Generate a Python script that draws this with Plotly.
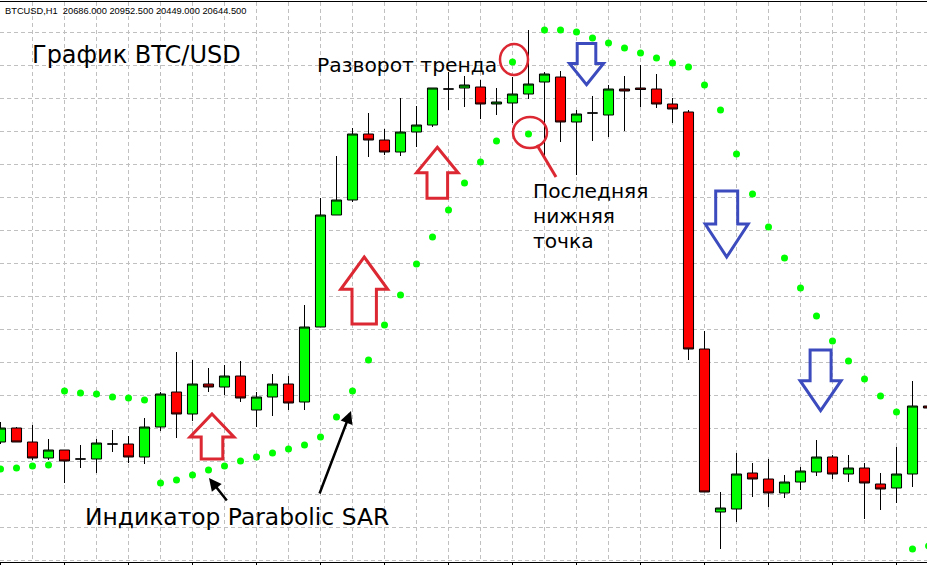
import plotly.graph_objects as go

# ---------------- data (BTC/USD, H1) ----------------
bar_index = list(range(59))
open_ = [20316, 20344, 20316, 20284, 20300, 20282, 20282, 20312, 20312, 20286,
         20346, 20416, 20372, 20432, 20426, 20448, 20380, 20406, 20432, 20396,
         20546, 20770, 20800, 20932, 20920, 20896, 20936, 20950, 21022, 21024,
         21026, 20992, 20994, 21012, 21036, 21046, 20956, 20974, 20970, 21022,
         21024, 21022, 20992, 20976, 20502, 20176, 20182, 20254, 20242, 20214,
         20236, 20256, 20286, 20252, 20264, 20232, 20224, 20252, 20388]
high_ = [20356, 20346, 20350, 20322, 20300, 20310, 20322, 20340, 20328, 20364,
         20416, 20496, 20480, 20464, 20470, 20478, 20416, 20452, 20448, 20590,
         20804, 20888, 20944, 20974, 20942, 21004, 20988, 21024, 21056, 21048,
         21040, 21024, 21046, 21140, 21056, 21058, 20980, 21008, 21030, 21048,
         21070, 21052, 21004, 20980, 20538, 20216, 20294, 20274, 20282, 20250,
         20266, 20320, 20290, 20290, 20274, 20254, 20306, 20438, 20390]
low_ = [20312, 20316, 20280, 20280, 20234, 20264, 20254, 20296, 20274, 20272,
        20338, 20324, 20358, 20416, 20410, 20396, 20346, 20368, 20380, 20380,
        20546, 20770, 20796, 20886, 20890, 20888, 20906, 20946, 20980, 20986,
        20962, 20970, 20954, 21002, 20886, 20916, 20850, 20918, 20926, 20938,
        20986, 20984, 20954, 20480, 20216, 20102, 20156, 20206, 20186, 20204,
        20220, 20248, 20242, 20236, 20162, 20180, 20194, 20226, 20382]
close_ = [20344, 20316, 20284, 20300, 20278, 20282, 20314, 20312, 20286, 20346,
          20412, 20372, 20432, 20426, 20448, 20404, 20406, 20432, 20394, 20546,
          20770, 20800, 20932, 20920, 20896, 20936, 20950, 21024, 21022, 21030,
          20992, 20996, 21012, 21032, 21052, 20956, 20972, 20974, 21022, 21018,
          21021, 20992, 20982, 20502, 20216, 20184, 20252, 20242, 20214, 20236,
          20258, 20286, 20252, 20264, 20234, 20222, 20252, 20388, 20384]
sar = [20262, 20264, 20268, 20270, 20418, 20414, 20412, 20406, 20404, 20400,
       20234, 20240, 20250, 20260, 20268, 20278, 20286, 20294, 20302, 20310,
       20326, 20366, 20418, 20480, 20550, 20610, 20672, 20726, 20780, 20834,
       20876, 20918, 21076, 20932, 21140, 21140, 21136, 21124, 21114, 21104,
       21094, 21084, 21074, 21066, 21030, 20980, 20892, 20812, 20746, 20684,
       20624, 20568, 20518, 20478, 20442, 20408, 20376, 20102, 20108]

header_text = "BTCUSD,H1  20686.000 20952.500 20449.000 20644.500"
title_text = "График BTC/USD"
reversal_text = "Разворот тренда"
last_low_lines = ["Последняя", "нижняя", "точка"]
indicator_text = "Индикатор Parabolic SAR"

# ---------------- layout helpers (pixel -> axis) ----------------
W, H = 927, 565
MT, MB = 2, 3
STEP, OFF = 16.0, 0.5          # px per bar, px of bar 0
PTOP = 21200                   # price at pixel row 0
PPX = 2.0                      # price per pixel


def X(px):
    return (px - OFF) / STEP


def Y(py):
    return PTOP - PPX * py


GREEN = "#00ff00"
RED = "#ff0000"
ARED = "#dc2832"
ABLUE = "#3c4bbe"
GRID = "#c0c0c0"
FONT = "DejaVu Sans"

fig = go.Figure()
fig.add_trace(go.Candlestick(
    x=bar_index, open=open_, high=high_, low=low_, close=close_,
    increasing=dict(fillcolor=GREEN, line=dict(color="black", width=1)),
    decreasing=dict(fillcolor=RED, line=dict(color="black", width=1)),
    whiskerwidth=0, showlegend=False, name="BTCUSD"))
fig.add_trace(go.Scatter(
    x=bar_index, y=sar, mode="markers",
    marker=dict(color=GREEN, size=7, line=dict(width=0)),
    showlegend=False, name="Parabolic SAR"))


def up_arrow(cx, ty, wy, by, w, s):
    pts = [(cx, ty), (cx + w, wy), (cx + s, wy), (cx + s, by),
           (cx - s, by), (cx - s, wy), (cx - w, wy)]
    return "M " + " L ".join(f"{X(a):.4f},{Y(b):.2f}" for a, b in pts) + " Z"


shapes = []
for cx, ty, wy, by, w, s in [(212, 414, 437, 459, 22, 10.8),
                             (364.2, 257, 289.3, 324, 23.5, 12.2),
                             (437.3, 147.3, 172.7, 198.3, 20.8, 10.3)]:
    shapes.append(dict(type="path", path=up_arrow(cx, ty, wy, by, w, s),
                       line=dict(color=ARED, width=3), xref="x", yref="y"))
for cx, ty, wy, by, w, s in [(586.5, 84.7, 63.5, 43.5, 17, 9.3),
                             (726.7, 257, 224, 191, 21.5, 11),
                             (820.6, 410.7, 380.7, 350, 20.5, 10.5)]:
    shapes.append(dict(type="path", path=up_arrow(cx, ty, wy, by, w, s),
                       line=dict(color=ABLUE, width=3), xref="x", yref="y"))
# circles and pointer line
shapes.append(dict(type="circle", xref="x", yref="y", x0=X(500), x1=X(528),
                   y0=Y(75), y1=Y(44), line=dict(color=ARED, width=2.5)))
shapes.append(dict(type="circle", xref="x", yref="y", x0=X(513), x1=X(547),
                   y0=Y(148), y1=Y(117), line=dict(color=ARED, width=2.5)))
shapes.append(dict(type="line", xref="x", yref="y", x0=X(537), y0=Y(145),
                   x1=X(556), y1=Y(177), line=dict(color=ARED, width=3)))

ann = []


def label(txt, px, pymid, size, family=FONT):
    ann.append(dict(text=txt, x=X(px), y=Y(pymid), xref="x", yref="y",
                    xanchor="left", yanchor="middle", showarrow=False,
                    font=dict(family=family, size=size, color="black")))


label(header_text, 3, 10.5, 9.3, "Liberation Sans")
label(title_text, 30, 55, 24)
label(reversal_text, 315, 64.5, 20.3)
for k, line in enumerate(last_low_lines):
    label(line, 531, 190.5 + 25 * k, 20.2)
label(indicator_text, 83, 517, 23.4)

for tip, tail in [((209, 478), (228, 502)), ((351, 411), (319, 495))]:
    ann.append(dict(text="", x=X(tip[0]), y=Y(tip[1]), xref="x", yref="y",
                    ax=tail[0] - tip[0], ay=tail[1] - tip[1],
                    showarrow=True, arrowhead=2, arrowsize=1, arrowwidth=2.5,
                    arrowcolor="black", font=dict(size=1)))

fig.update_layout(
    width=W, height=H, margin=dict(l=0, r=0, t=MT, b=MB, pad=0),
    paper_bgcolor="white", plot_bgcolor="white",
    boxgap=0.37, boxgroupgap=0,
    shapes=shapes, annotations=ann, showlegend=False,
    xaxis=dict(range=[X(0), X(W)], rangeslider=dict(visible=False),
               showline=True, linecolor="black", linewidth=1, mirror=True,
               ticks="outside", ticklen=3, tickcolor="black", tick0=0, dtick=4,
               showticklabels=False, showgrid=True, gridcolor=GRID,
               griddash="4px,3px", gridwidth=1, zeroline=False,
               minor=dict(dtick=2, tick0=0, showgrid=True, gridcolor=GRID,
                          griddash="4px,3px", gridwidth=1, ticks="")),
    yaxis=dict(range=[Y(H - MB), Y(MT)], tick0=Y(32), dtick=33 * PPX,
               showgrid=True, gridcolor=GRID, griddash="4px,3px", gridwidth=1,
               showticklabels=False, zeroline=False, showline=False, ticks=""),
    hovermode=False,
)
fig.write_html(
    "out.html",
    config={"displayModeBar": False},
    post_script="document.body.style.margin='0';"
                "document.body.style.overflow='hidden';")
